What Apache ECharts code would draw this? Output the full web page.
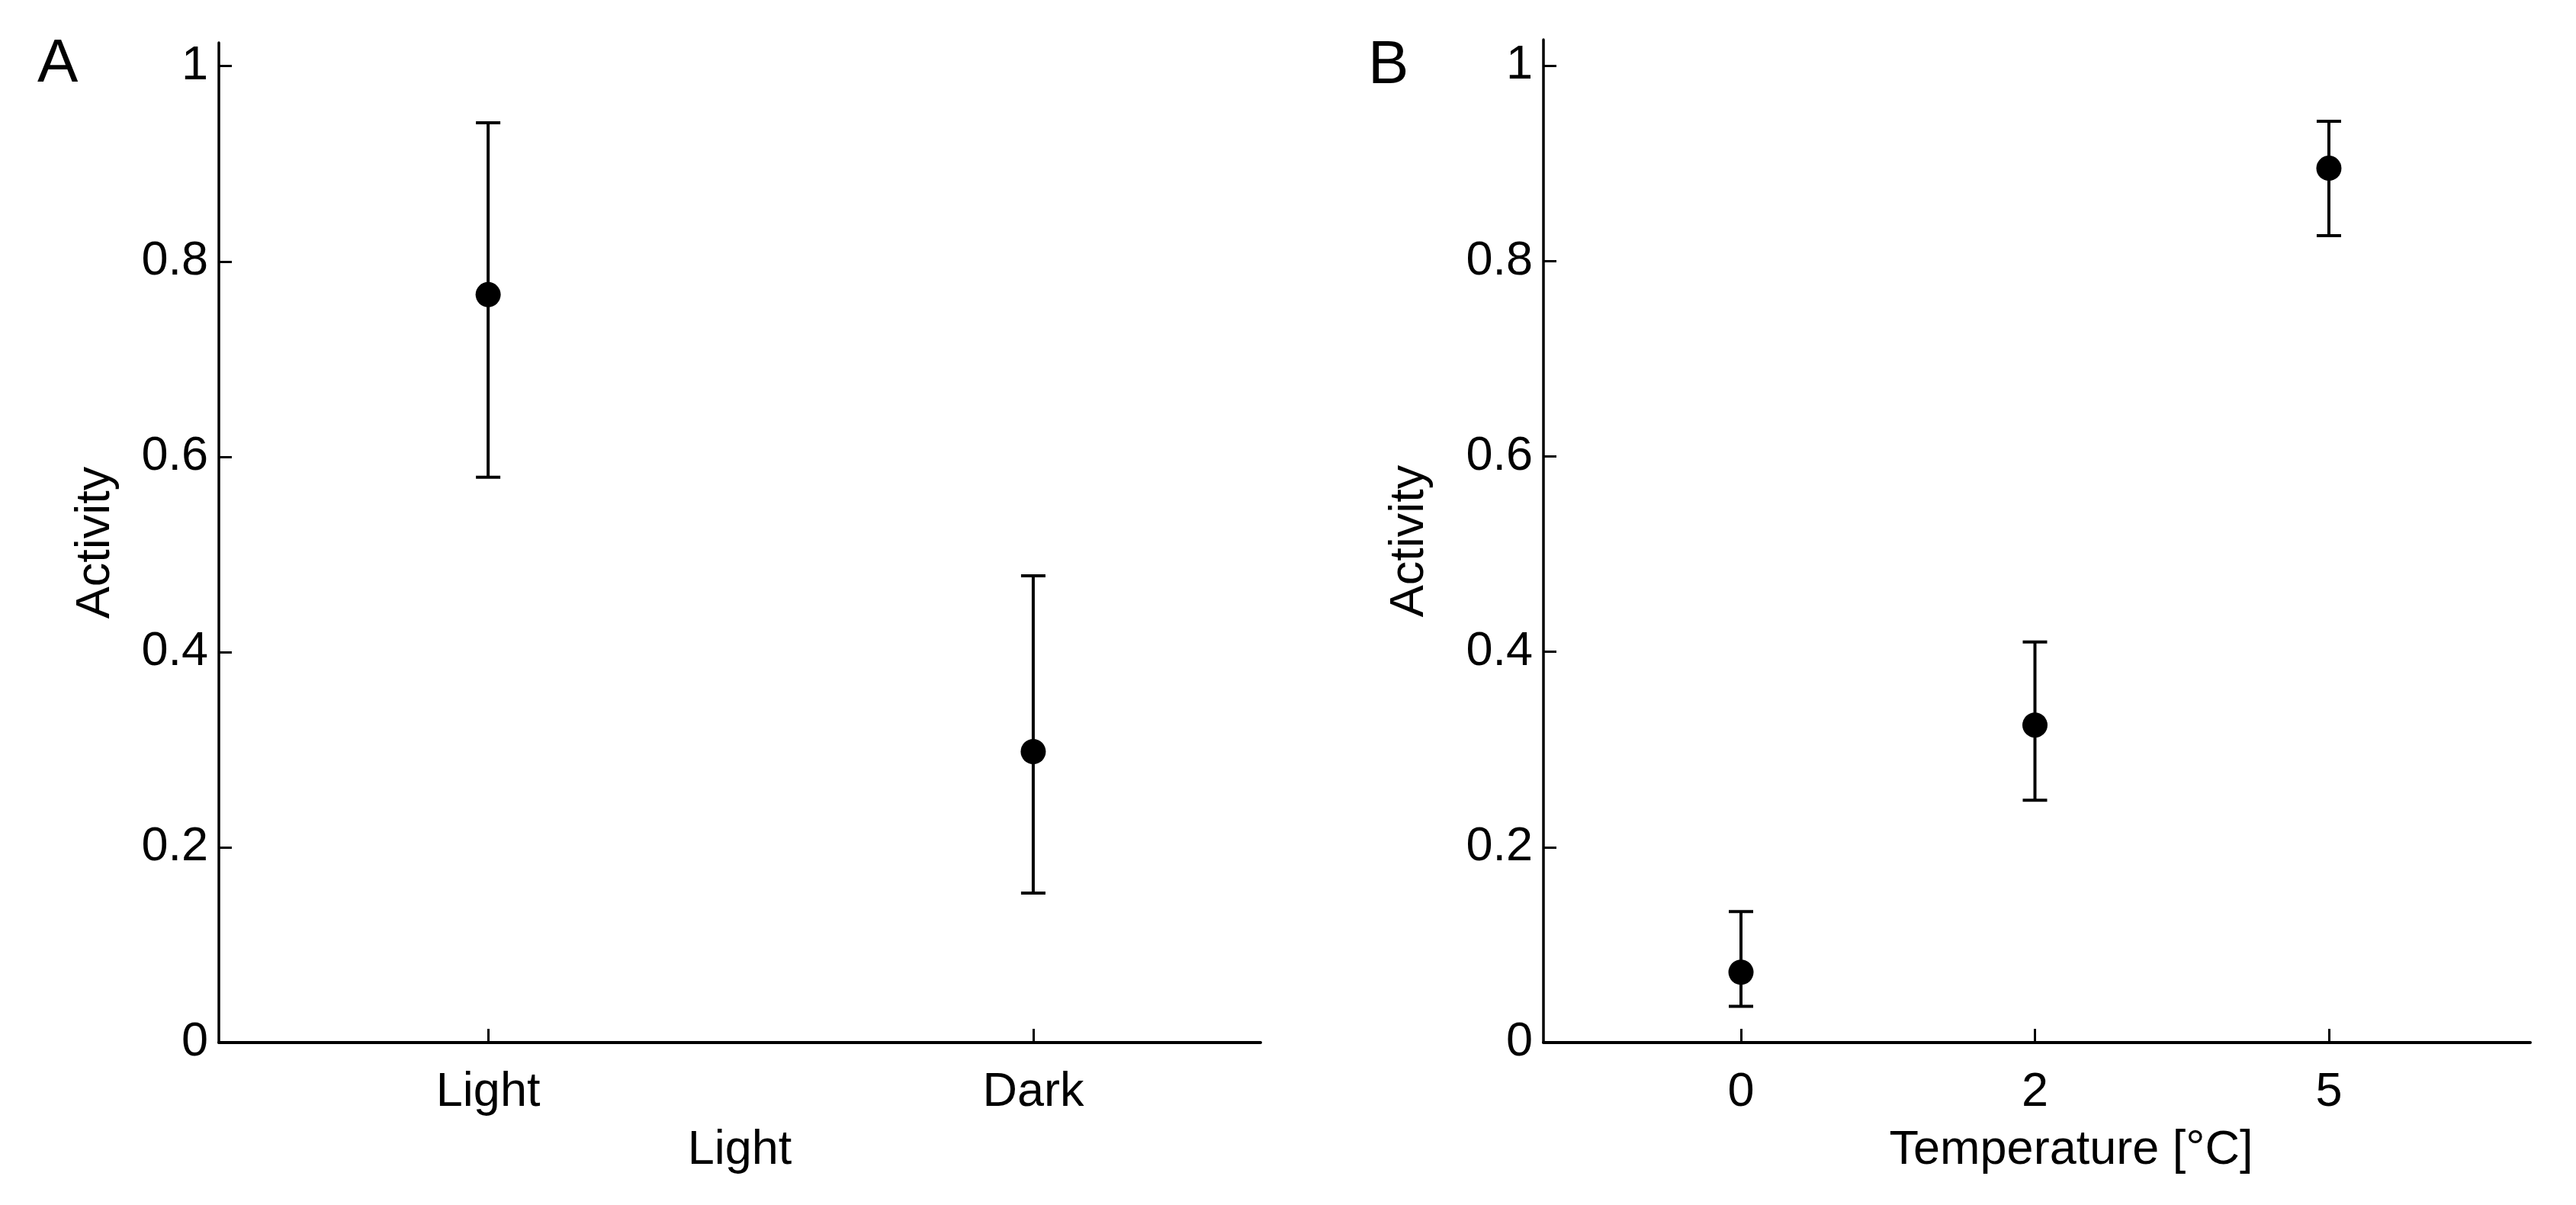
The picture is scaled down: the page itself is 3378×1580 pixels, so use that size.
<!DOCTYPE html>
<html>
<head>
<meta charset="utf-8">
<script src="https://cdn.jsdelivr.net/npm/echarts@6/dist/echarts.min.js"></script>
<style>
html,body{margin:0;padding:0;background:#fff;}
#chart{width:3378px;height:1580px;}
</style>
</head>
<body>
<div id="chart"></div>
<script>
// Panel A data
const lightCategories = ['Light', 'Dark'];
const lightMean  = [0.766, 0.298];
const lightUpper = [0.942, 0.478];
const lightLower = [0.579, 0.153];
// Panel B data
const tempLabels = ['0', '2', '5'];
const tempMean  = [0.072, 0.325, 0.895];
const tempUpper = [0.134, 0.410, 0.943];
const tempLower = [0.037, 0.248, 0.826];
// Y ticks
const yTicks = [0, 0.2, 0.4, 0.6, 0.8, 1];

const FONT = 'Liberation Sans, Arial, sans-serif';
const FS = 63;
const black = '#000';

function errRender(params, api) {
  const x = api.value(0), lo = api.value(1), hi = api.value(2);
  const pTop = api.coord([x, hi]);
  const pBot = api.coord([x, lo]);
  const hw = 16;
  const st = { stroke: black, lineWidth: 4 };
  return {
    type: 'group',
    children: [
      { type: 'line', shape: { x1: pTop[0], y1: pTop[1], x2: pBot[0], y2: pBot[1] }, style: st },
      { type: 'line', shape: { x1: pTop[0] - hw, y1: pTop[1], x2: pTop[0] + hw, y2: pTop[1] }, style: st },
      { type: 'line', shape: { x1: pBot[0] - hw, y1: pBot[1], x2: pBot[0] + hw, y2: pBot[1] }, style: st }
    ]
  };
}

function xAxisCfg(gridIndex, min, max, labels, name, namePad) {
  const vals = labels.map((_, i) => i);
  return {
    type: 'value', gridIndex, min, max,
    name, nameLocation: 'middle', nameGap: 110,
    nameTextStyle: { fontFamily: FONT, fontSize: FS, color: black, padding: namePad },
    axisLine: { show: true, onZero: false, lineStyle: { color: black, width: 4 } },
    axisTick: { show: true, inside: true, length: 18, customValues: vals, lineStyle: { color: black, width: 3 } },
    axisLabel: { show: true, customValues: vals, margin: 34, fontFamily: FONT, fontSize: FS, color: black,
                 formatter: v => labels[Math.round(v)] },
    splitLine: { show: false }
  };
}
function yAxisCfg(gridIndex, max, nameGap) {
  return {
    type: 'value', gridIndex, min: 0, max,
    name: 'Activity', nameLocation: 'middle', nameGap, nameRotate: 90,
    nameTextStyle: { fontFamily: FONT, fontSize: FS, color: black },
    axisLine: { show: true, onZero: false, lineStyle: { color: black, width: 3.5 } },
    axisTick: { show: true, inside: true, length: 17, customValues: yTicks, lineStyle: { color: black, width: 3 } },
    axisLabel: { show: true, customValues: yTicks, margin: 14, fontFamily: FONT, fontSize: FS, color: black,
                 formatter: v => String(Math.round(v * 10) / 10) },
    splitLine: { show: false }
  };
}

const chart = echarts.init(document.getElementById('chart'), null, { renderer: 'canvas' });
chart.setOption({
  backgroundColor: '#fff',
  animation: false,
  title: [
    { text: 'A', left: 44, top: 40, textStyle: { fontFamily: FONT, fontSize: 80, fontWeight: 'normal', color: black } },
    { text: 'B', left: 1789, top: 42, textStyle: { fontFamily: FONT, fontSize: 80, fontWeight: 'normal', color: black } }
  ],
  grid: [
    { left: 287, right: 3378 - 1653, top: 56, bottom: 1580 - 1367 },
    { left: 2024, right: 3378 - 3318, top: 52, bottom: 1580 - 1367 }
  ],
  xAxis: [
    xAxisCfg(0, -0.494, 1.417, lightCategories, 'Light', [0, 0, 0, 0]),
    xAxisCfg(1, -0.672, 2.685, tempLabels, 'Temperature [°C]', [0, 0, 0, 90])
  ],
  yAxis: [
    yAxisCfg(0, 1.024, 130),
    yAxisCfg(1, 1.0266, 144)
  ],
  series: [
    { type: 'custom', xAxisIndex: 0, yAxisIndex: 0, renderItem: errRender,
      data: lightCategories.map((_, i) => [i, lightLower[i], lightUpper[i]]), z: 2 },
    { type: 'scatter', xAxisIndex: 0, yAxisIndex: 0, symbol: 'circle', symbolSize: 33,
      itemStyle: { color: black, opacity: 1 }, data: lightCategories.map((_, i) => [i, lightMean[i]]), z: 3 },
    { type: 'custom', xAxisIndex: 1, yAxisIndex: 1, renderItem: errRender,
      data: tempLabels.map((_, i) => [i, tempLower[i], tempUpper[i]]), z: 2 },
    { type: 'scatter', xAxisIndex: 1, yAxisIndex: 1, symbol: 'circle', symbolSize: 33,
      itemStyle: { color: black, opacity: 1 }, data: tempLabels.map((_, i) => [i, tempMean[i]]), z: 3 }
  ]
});
</script>
</body>
</html>
